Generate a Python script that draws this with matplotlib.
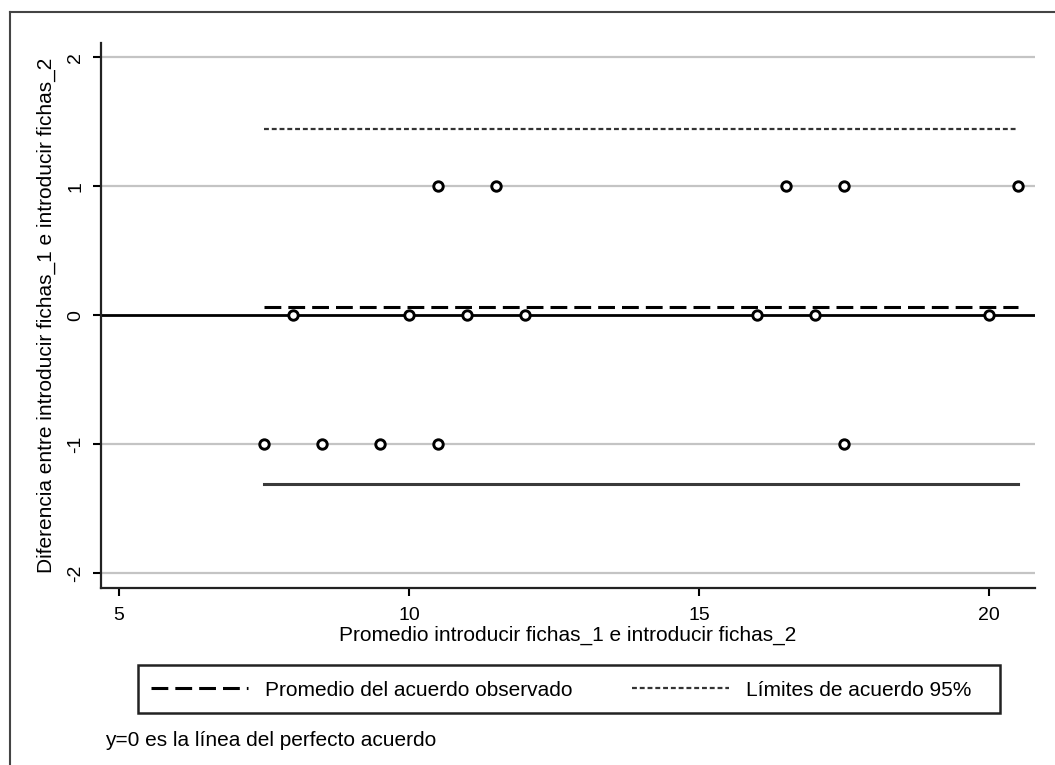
import matplotlib
matplotlib.use("Agg")
import matplotlib.pyplot as plt
from matplotlib.lines import Line2D
from matplotlib.patches import Rectangle

plt.rcParams['font.family'] = ['Liberation Sans', 'DejaVu Sans']
plt.rcParams['axes.unicode_minus'] = False

# ---- data ----
mean_vals = [10.5, 11.5, 16.5, 17.5, 20.5,
             8, 10, 11, 12, 16, 17, 20,
             7.5, 8.5, 9.5, 10.5, 17.5]
diff_vals = [1, 1, 1, 1, 1,
             0, 0, 0, 0, 0, 0, 0,
             -1, -1, -1, -1, -1]
mean_diff = 0.065
upper_loa = 1.44
lower_loa = -1.31
x_ticks = [5, 10, 15, 20]
y_ticks = [-2, -1, 0, 1, 2]

xlabel = "Promedio introducir fichas_1 e introducir fichas_2"
ylabel = "Diferencia entre introducir fichas_1 e introducir fichas_2"
leg_labels = ["Promedio del acuerdo observado", "Límites de acuerdo 95%"]
note = "y=0 es la línea del perfecto acuerdo"

W, H = 1055, 765
fig = plt.figure(figsize=(W / 100, H / 100), dpi=100)
ax = fig.add_axes([101 / W, 1 - 588 / H, (1035 - 101) / W, (588 - 43) / H])

ax.set_xlim(4.69, 20.79)
ax.set_ylim(-2.116, 2.11)

# gridlines
for yt in y_ticks:
    if yt != 0:
        ax.axhline(yt, color='#c4c4c4', lw=1.6, zorder=1)
# perfect agreement line
ax.axhline(0, color='black', lw=2.0, zorder=2)

x0, x1 = min(mean_vals), max(mean_vals)
mean_line, = ax.plot([x0, x1], [mean_diff, mean_diff], color='black', lw=2.2,
                     dashes=(5.5, 2.3), zorder=3)
upper_line, = ax.plot([x0, x1], [upper_loa, upper_loa], color='#333333', lw=1.6,
                      dashes=(2.2, 1.3), zorder=3)
ax.plot([x0, x1], [lower_loa, lower_loa], color='#3a3a3a', lw=2.2, zorder=3)

ax.plot(mean_vals, diff_vals, linestyle='none', marker='o', markersize=6.8,
        markerfacecolor='white', markeredgecolor='black', markeredgewidth=2.1,
        zorder=4, clip_on=False)

for s in ['top', 'right']:
    ax.spines[s].set_visible(False)
for s in ['left', 'bottom']:
    ax.spines[s].set_linewidth(1.6)
    ax.spines[s].set_color('#222222')

ax.set_xticks(x_ticks)
ax.set_yticks(y_ticks)
ax.tick_params(axis='both', direction='out', length=6, width=1.5, labelsize=14,
               colors='black')
ax.tick_params(axis='x', pad=8)
ax.tick_params(axis='y', pad=6)
for lab in ax.get_yticklabels():
    lab.set_rotation(90)
    lab.set_va('center')

ax.set_xlabel(xlabel, fontsize=15, labelpad=1)
ax.set_ylabel(ylabel, fontsize=15, labelpad=8)

# legend box
fig.patches.append(Rectangle((138 / W, 1 - 713 / H), (1000 - 138) / W, 48 / H,
                             transform=fig.transFigure, fill=False,
                             edgecolor='#222222', lw=1.8))
fig.legend([mean_line, upper_line], leg_labels, ncol=2, frameon=False,
           loc='center left', bbox_to_anchor=(151 / W, 1 - 690 / H),
           fontsize=15, handlelength=4.66, handletextpad=0.82,
           columnspacing=2.83, borderpad=0, borderaxespad=0)

fig.text(105 / W, 1 - 741 / H, note, fontsize=15, ha='left', va='center')

# outer frame (partially visible)
fig.add_artist(Line2D([10 / W, 10 / W], [0, 1 - 12 / H], transform=fig.transFigure,
                      color='#444444', lw=1.5))
fig.add_artist(Line2D([10 / W, 1], [1 - 12 / H, 1 - 12 / H], transform=fig.transFigure,
                      color='#444444', lw=1.5))

fig.savefig("out.png", dpi=100, facecolor='white')
